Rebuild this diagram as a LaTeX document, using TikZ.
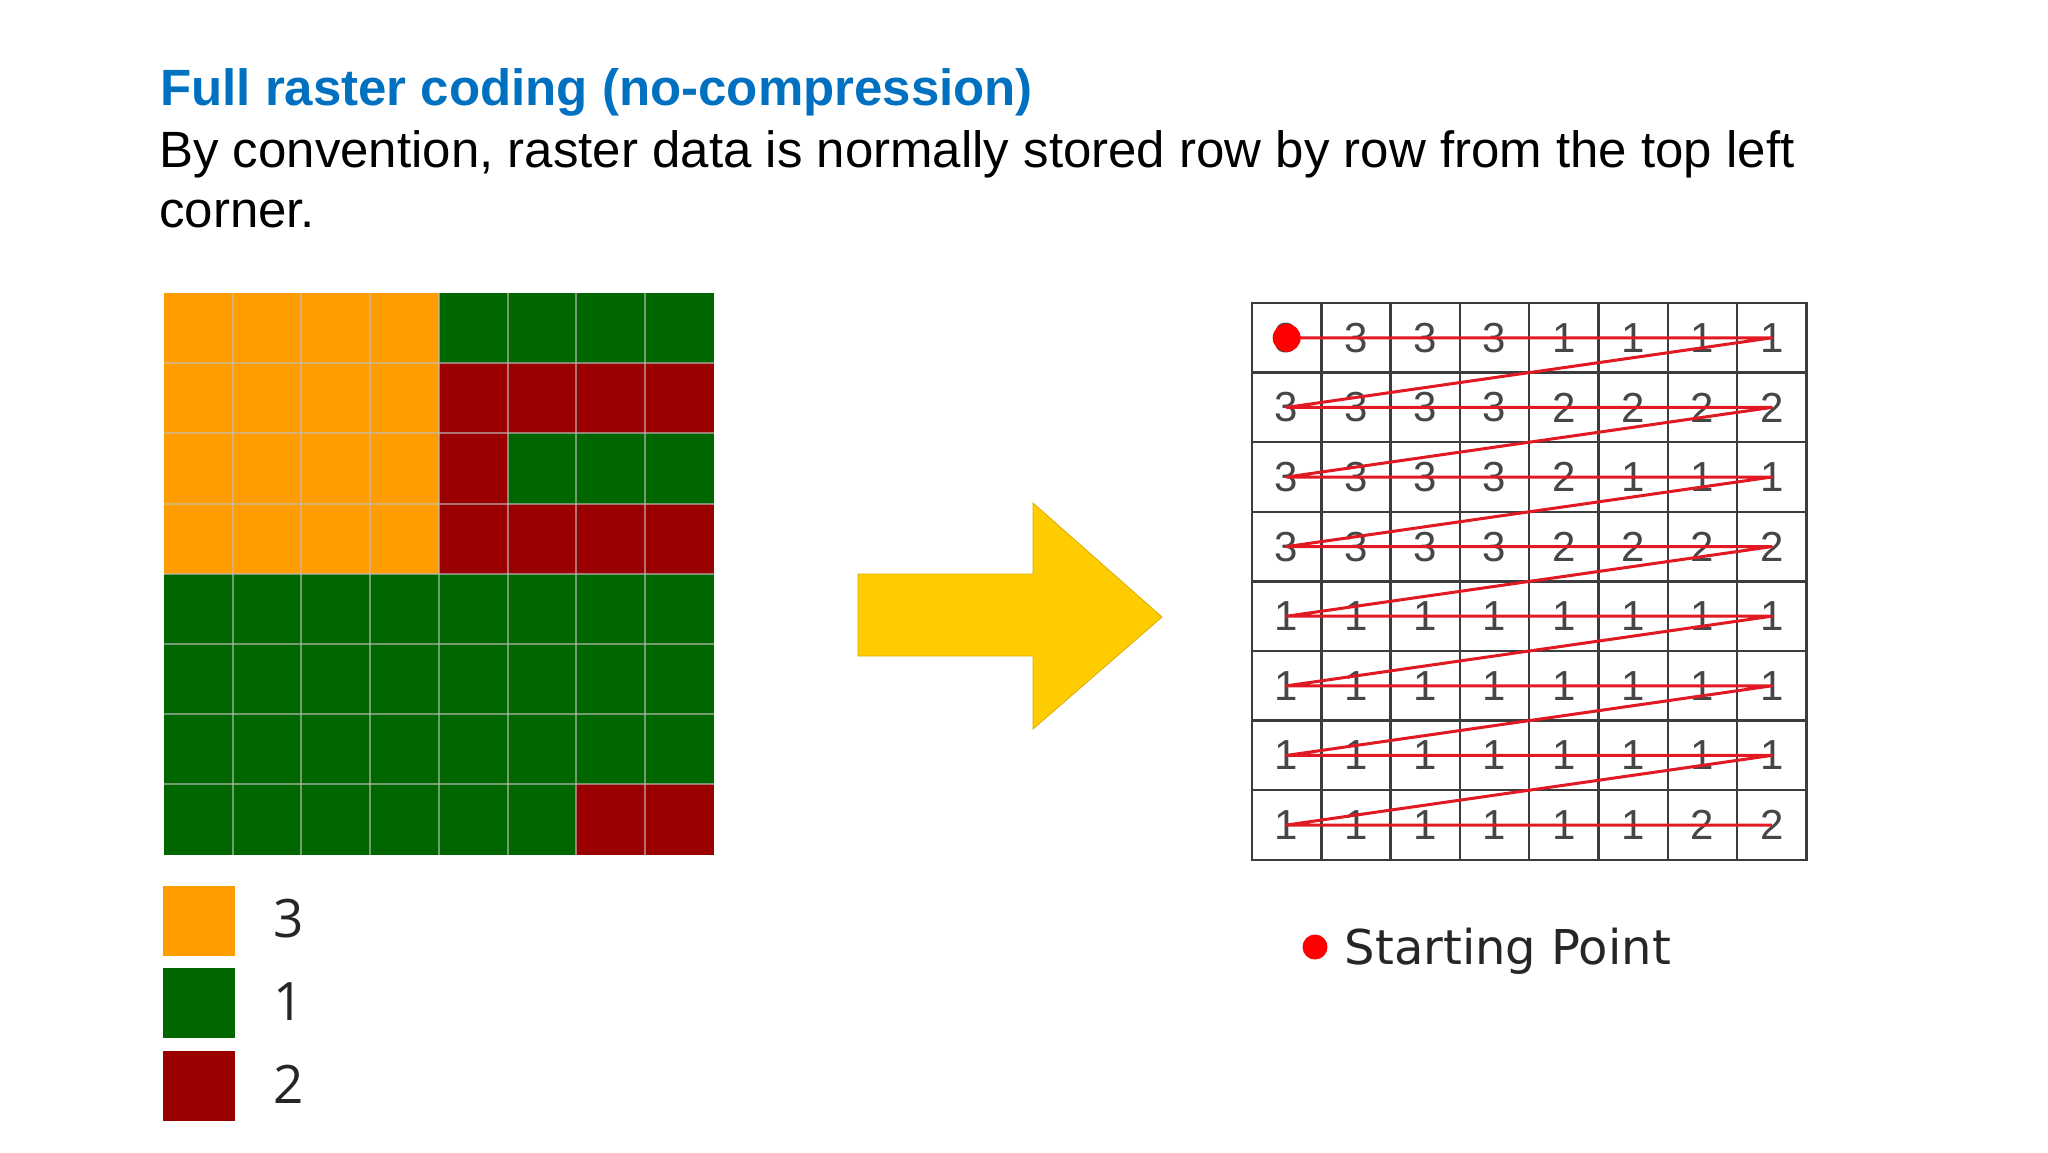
\documentclass[tikz,border=0pt]{standalone}
\usepackage{fontspec}
\setmainfont{Liberation Sans}
\newfontfamily\keyfont{DejaVu Sans}
\newfontfamily\legendfont{Open Sans}
\usetikzlibrary{positioning}
\definecolor{titleblue}{RGB}{0,112,192}
\definecolor{c3}{RGB}{255,156,0}
\definecolor{c1}{RGB}{0,102,0}
\definecolor{c2}{RGB}{155,0,0}
\definecolor{arrowgold}{RGB}{255,204,0}
\definecolor{gridgray}{RGB}{60,60,60}
\definecolor{digitgray}{RGB}{70,70,70}
\definecolor{scanred}{RGB}{225,25,35}

\begin{document}
\begin{tikzpicture}[x=1pt, y=-1pt,
     cell/.style = {minimum width=68.7pt, minimum height=70.2pt,
                    inner sep=0pt, outer sep=0pt},
 gridline/.style = {draw=lightgray, draw opacity=.6, line width=2pt},
    pixel/.style = {draw=gridgray, line width=2.5pt, minimum width=69.3pt,
                    minimum height=69.6pt, inner sep=0pt, outer sep=0pt,
                    font=\fontsize{42}{42}\selectfont, text=digitgray},
   keybox/.style = {minimum width=72pt, minimum height=70pt, inner sep=0pt},
 keylabel/.style = {inner sep=0pt, text=black!85,
                    font=\legendfont\fontsize{53}{53}\selectfont},
 scanline/.style = {scanred, line width=3pt, line join=round}
                   ]
\useasboundingbox (0,0) rectangle (2048,1152);
\fill[white] (0,0) rectangle (2048,1152);

% heading
\node[anchor=base west, inner sep=0pt, text=titleblue,
      font=\bfseries\fontsize{51}{51}\selectfont] (title) at (160,105)
      {Full raster coding (no-compression)};
\node[anchor=base west, inner sep=0pt, font=\fontsize{51}{51}\selectfont]
      (desc1) at (159,167)
      {By convention, raster data is normally stored row by row from the top left};
\node[anchor=base west, inner sep=0pt, font=\fontsize{51}{51}\selectfont]
      (desc2) at (159,227) {corner.};

% both rasters from the same values
\foreach \row [count=\r] in {{3,3,3,3,1,1,1,1},{3,3,3,3,2,2,2,2},
                             {3,3,3,3,2,1,1,1},{3,3,3,3,2,2,2,2},
                             {1,1,1,1,1,1,1,1},{1,1,1,1,1,1,1,1},
                             {1,1,1,1,1,1,1,1},{1,1,1,1,1,1,2,2}}
  \foreach \v [count=\c] in \row {
    \node[cell, fill=c\v] (l-\r-\c) at ({164+68.7*(\c-.5)}, {293+70.2*(\r-.5)}) {};
    \node[pixel] (r-\r-\c) at ({1252+69.3*(\c-.5)}, {303+69.6*(\r-.5)}) {\v};
  }
\foreach \i in {1,...,7} {
  \draw[gridline] (l-1-\i.north east) -- (l-8-\i.south east);
  \draw[gridline] (l-\i-1.south west) -- (l-\i-8.south east);
}

% scan order
\draw[scanline] (r-1-1.center)
  \foreach \r in {1,...,8} { -- (r-\r-1.center) -- (r-\r-8.center) };
\fill[red] (r-1-1.center) circle[radius=14pt];

% arrow
\fill[arrowgold, draw=arrowgold!85!black, line width=.8pt]
  (858,574) -- (1033,574) -- (1033,503) -- (1162,617) -- (1033,729)
  -- (1033,656) -- (858,656) -- cycle;

% legend
\node[keybox, fill=c3] (key3) at (199,921) {};
\node[keybox, fill=c1, below=12pt of key3] (key1) {};
\node[keybox, fill=c2, below=12pt of key1] (key2) {};
\foreach \k in {3,1,2}
  \node[keylabel, right=38pt of key\k, yshift=2pt] (lab\k) {\k};

\node[circle, fill=red, minimum size=25pt, inner sep=0pt] (startdot) at (1315,947) {};
\node[anchor=base west, inner sep=0pt, text=black!85,
      font=\keyfont\fontsize{48}{48}\selectfont] (startlabel)
      at ([xshift=17pt, yshift=-17pt]startdot.east) {Starting Point};
\end{tikzpicture}
\end{document}
